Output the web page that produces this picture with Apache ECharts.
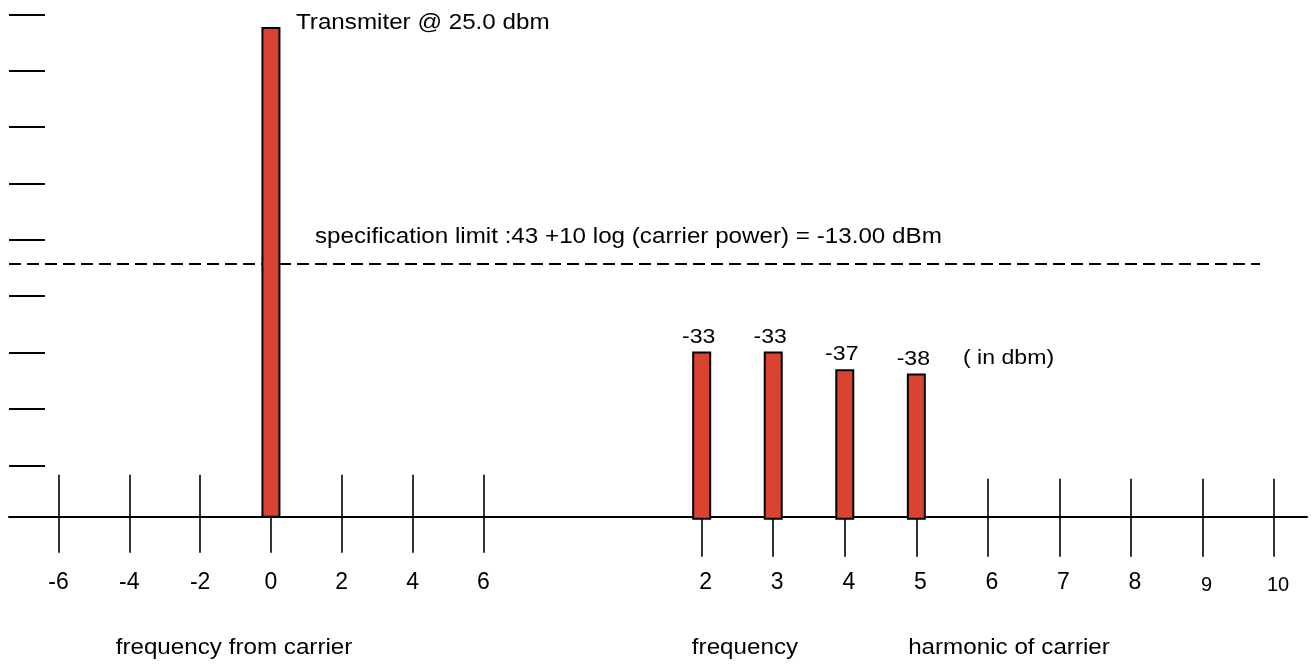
<!DOCTYPE html>
<html>
<head>
<meta charset="utf-8">
<script src="https://cdn.jsdelivr.net/npm/echarts@6/dist/echarts.min.js"></script>
<style>
  html, body { margin: 0; padding: 0; background: #ffffff; }
  #chart { width: 1314px; height: 666px; }
</style>
</head>
<body>
<div id="chart"></div>
<script>
// ---------------- data ----------------
const OFFSET_TICKS = [-6, -4, -2, 0, 2, 4, 6];            // frequency from carrier
const HARMONIC_TICKS = [2, 3, 4, 5, 6, 7, 8, 9, 10];       // harmonic of carrier
const CARRIER_OFFSET = [0];
const CARRIER_DBM = [25.0];
const HARMONIC_NUMBERS = [2, 3, 4, 5];
const HARMONIC_DBM = [-33, -33, -37, -38];
const LIMIT_DBM = -13;
const LEVEL_TICKS = [-58.45, -45.75, -33.05, -20.35, -7.65, 5.05, 17.75, 30.45, 43.15];
const AXIS_NAMES = ['frequency from carrier', 'frequency', 'harmonic of carrier'];
const UNIT_NOTE = '( in dbm)';

// ---------------- style / layout ----------------
const FONT = '"Liberation Sans", Arial, Helvetica, sans-serif';
const RED = '#da4232';
const BAR_W = 17;
const STRETCH = 1.1;

const carrierData = CARRIER_OFFSET.map((x, i) => [x, CARRIER_DBM[i]]);
const harmonicData = HARMONIC_NUMBERS.map((n, i) => [n, HARMONIC_DBM[i]]);

function renderCarrier(params, api) {
  const x = api.value(0), v = api.value(1);
  const top = api.coord([x, v]);
  const base = params.coordSys.y + params.coordSys.height;
  return {
    type: 'group',
    children: [
      { type: 'rect',
        shape: { x: top[0] - BAR_W / 2, y: top[1], width: BAR_W, height: base - top[1] },
        style: { fill: RED, stroke: '#000', lineWidth: 2 } },
      { type: 'text', x: top[0] + 25, y: top[1] - 5, scaleX: STRETCH,
        style: { text: 'Transmiter @ ' + v.toFixed(1) + ' dbm', fill: '#000',
                 font: '22px ' + FONT, align: 'left', verticalAlign: 'middle' } }
    ]
  };
}

function renderHarmonic(params, api) {
  const n = api.value(0), v = api.value(1);
  const top = api.coord([n, v]);
  const base = params.coordSys.y + params.coordSys.height;
  return {
    type: 'group',
    children: [
      { type: 'rect',
        shape: { x: top[0] - BAR_W / 2, y: top[1], width: BAR_W, height: base - top[1] + 2 },
        style: { fill: RED, stroke: '#000', lineWidth: 2 } },
      { type: 'text', x: top[0] - 3, y: top[1] - 5, scaleX: STRETCH,
        style: { text: String(v), fill: '#000', font: '21px ' + FONT,
                 align: 'center', verticalAlign: 'bottom' } }
    ]
  };
}

const tickStyle = { color: '#000', width: 1.6 };

const option = {
  animation: false,
  backgroundColor: '#ffffff',
  grid: [
    { left: 9, right: 7, top: 14.3, bottom: 149.3, outerBoundsMode: 'none' },
    { left: 9, right: 54, top: 14.3, bottom: 149.3, outerBoundsMode: 'none' }
  ],
  xAxis: [
    { // frequency offset axis: line, outward ticks, labels
      type: 'value', gridIndex: 0, position: 'bottom', min: -7.4, max: 29.27,
      axisLine: { show: true, onZero: false, lineStyle: { color: '#000', width: 2 } },
      axisTick: { show: true, customValues: OFFSET_TICKS, length: 36, lineStyle: tickStyle },
      axisLabel: { show: true, customValues: OFFSET_TICKS, margin: 54, fontSize: 23,
                   color: '#000', fontFamily: FONT },
      splitLine: { show: false }
    },
    { // frequency offset axis: inward ticks
      type: 'value', gridIndex: 0, position: 'bottom', min: -7.4, max: 29.27,
      axisLine: { show: false, onZero: false },
      axisTick: { show: true, inside: true, customValues: OFFSET_TICKS, length: 42, lineStyle: tickStyle },
      axisLabel: { show: false }, splitLine: { show: false }
    },
    { // harmonic axis: outward ticks, labels
      type: 'value', gridIndex: 0, position: 'bottom', min: -7.681, max: 10.46,
      axisLine: { show: false, onZero: false },
      axisTick: { show: true, customValues: HARMONIC_TICKS, length: 40, lineStyle: tickStyle },
      axisLabel: { show: true, customValues: HARMONIC_TICKS, margin: 54, fontSize: 23,
                   color: '#000', fontFamily: FONT, padding: [0, 0, 0, 8],
                   formatter: (v) => (v >= 9 ? '{sm|' + v + '}' : String(v)),
                   rich: { sm: { fontSize: 20, fontFamily: FONT, color: '#000', padding: [5, 0, 0, 0] } } },
      splitLine: { show: false }
    },
    { // harmonic axis: inward ticks
      type: 'value', gridIndex: 0, position: 'bottom', min: -7.681, max: 10.46,
      axisLine: { show: false, onZero: false },
      axisTick: { show: true, inside: true, customValues: HARMONIC_TICKS, length: 38, lineStyle: tickStyle },
      axisLabel: { show: false }, splitLine: { show: false }
    },
    { type: 'value', gridIndex: 1, show: false, min: 0, max: 1 }
  ],
  yAxis: [
    { // level axis (dBm) for harmonics and limit
      type: 'value', gridIndex: 0, position: 'left', min: -70, max: 43.15,
      axisLine: { show: false, onZero: false },
      axisTick: { show: true, inside: true, length: 36, customValues: LEVEL_TICKS,
                  lineStyle: { color: '#000', width: 2 } },
      axisLabel: { show: false }, splitLine: { show: false }
    },
    { // carrier drawn off-scale, as in the diagram
      type: 'value', gridIndex: 0, show: false, min: -70, max: 27.67,
      axisLine: { onZero: false }
    },
    { type: 'value', gridIndex: 1, show: false, min: -70, max: 43.15, axisLine: { onZero: false } }
  ],
  series: [
    { type: 'custom', name: 'carrier', coordinateSystem: 'cartesian2d',
      xAxisIndex: 0, yAxisIndex: 1, data: carrierData, renderItem: renderCarrier, z: 5 },
    { type: 'custom', name: 'harmonics', coordinateSystem: 'cartesian2d',
      xAxisIndex: 2, yAxisIndex: 0, data: harmonicData, renderItem: renderHarmonic, z: 5 },
    { type: 'line', name: 'limit', xAxisIndex: 4, yAxisIndex: 2, data: [], z: 6,
      markLine: { silent: true, symbol: ['none', 'none'], label: { show: false },
                  lineStyle: { color: '#000', width: 2, type: [12, 6] },
                  data: [{ yAxis: LIMIT_DBM }] } }
  ],
  graphic: [
    { type: 'text', x: 315, y: 237, scaleX: STRETCH,
      style: { text: 'specification limit :43 +10 log (carrier power) = ' + LIMIT_DBM.toFixed(2) + ' dBm',
               fill: '#000', font: '22px ' + FONT, verticalAlign: 'middle', align: 'left' } },
    { type: 'text', x: 963, y: 358, scaleX: STRETCH,
      style: { text: UNIT_NOTE, fill: '#000', font: '21px ' + FONT, verticalAlign: 'middle', align: 'left' } },
    { type: 'text', x: 234, y: 648, scaleX: STRETCH,
      style: { text: AXIS_NAMES[0], fill: '#000', font: '22px ' + FONT, verticalAlign: 'middle', align: 'center' } },
    { type: 'text', x: 745, y: 648, scaleX: STRETCH,
      style: { text: AXIS_NAMES[1], fill: '#000', font: '22px ' + FONT, verticalAlign: 'middle', align: 'center' } },
    { type: 'text', x: 1009, y: 648, scaleX: STRETCH,
      style: { text: AXIS_NAMES[2], fill: '#000', font: '22px ' + FONT, verticalAlign: 'middle', align: 'center' } }
  ]
};

const chart = echarts.init(document.getElementById('chart'), null, { renderer: 'canvas' });
chart.setOption(option);
</script>
</body>
</html>
